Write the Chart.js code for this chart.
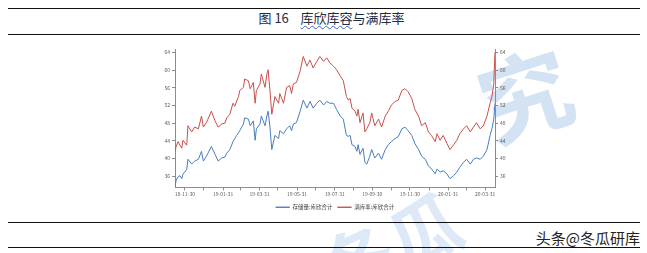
<!DOCTYPE html>
<html>
<head>
<meta charset="utf-8">
<script src="https://cdn.jsdelivr.net/npm/chart.js@4/dist/chart.umd.min.js"></script>
<style>
  body { margin: 0; width: 647px; height: 253px; background: #fff; overflow: hidden; position: relative;
         font-family: "Noto Sans CJK SC", "Noto Sans", sans-serif; }
  .rule { position: absolute; left: 8px; width: 632px; height: 0; border-top: 1.5px solid #111; }
  .title { position: absolute; top: 8px; left: 8px; width: 647px; text-align: center; font-size: 13px; color: #1f2a44; }
  .title .wavy { text-decoration: underline wavy #3d63c9; text-decoration-thickness: 1px; text-underline-offset: 2px; }
  .mark { position: absolute; color: rgba(170, 200, 232, 0.5); font-weight: bold; z-index: 0; }
  .wm { position: absolute; right: 7px; top: 227px; font-size: 15px; color: #222; }
  #box { position: absolute; left: 150px; top: 44px; width: 370px; height: 176px; z-index: 1; }
</style>
</head>
<body>
<div class="mark" style="left:478px; top:24px; font-size:92px; transform: rotate(-18deg);">究</div>
<div class="mark" style="left:318px; top:190px; font-size:72px; transform: rotate(-25deg); color: rgba(170,200,232,0.4);">冬瓜</div>
<div class="rule" style="top:8px"></div>
<div class="title">图 16&nbsp;&nbsp;&nbsp;&nbsp;<span class="wavy">库欣库容</span>与满库率</div>
<div class="rule" style="top:34px"></div>
<div class="rule" style="top:222px"></div>
<div class="wm">头条@冬瓜研库</div>
<div class="rule" style="top:247px"></div>
<div id="box"><canvas id="chart"></canvas></div>
<script>
// days counted from 2018-11-30
var days = [-16, -14, -11, -8, -5, -3, 0, 3, 5, 11, 16, 22, 27, 30, 35, 43, 49, 54, 60, 65,
  68, 73, 78, 81, 84, 87, 89, 95, 97, 103, 106, 111, 114, 116, 122, 124, 130, 133, 135, 138,
  141, 146, 152, 154, 160, 165, 170, 173, 176, 181, 187, 192, 198, 203, 208, 214, 219, 225, 230, 235,
  241, 246, 252, 257, 262, 265, 268, 271, 276, 279, 281, 284, 289, 292, 295, 300, 303, 308, 314, 319,
  325, 330, 335, 341, 346, 352, 357, 362, 368, 373, 379, 384, 390, 395, 400, 406, 409, 414, 419, 425,
  430, 436, 441, 446, 452, 457, 463, 468, 473, 479, 484, 490, 495, 498, 501, 503];

var stock = [33.6, 35.1, 35.8, 36.1, 35.4, 36.5, 36.9, 37.5, 39.8, 38.7, 39.4, 39.8, 41.6, 39.4, 40.5, 42.7, 40.9, 39.4, 40.1, 40.3,
  41.2, 42.0, 43.8, 44.5, 45.2, 45.8, 46.3, 47.8, 49.2, 48.9, 47.4, 48.5, 44.1, 46.7, 47.8, 49.6, 47.4, 49.6, 50.7, 47.1,
  42.0, 45.2, 44.5, 46.3, 45.6, 46.7, 47.4, 46.3, 47.8, 48.1, 50.7, 53.2, 51.4, 52.9, 51.4, 52.5, 53.2, 52.1, 52.9, 52.5,
  52.5, 51.1, 49.6, 48.9, 45.2, 45.0, 45.2, 43.1, 42.7, 41.6, 43.1, 40.9, 42.3, 39.1, 38.7, 40.5, 42.0, 40.1, 41.2, 39.8,
  42.0, 43.1, 43.8, 44.5, 44.9, 46.7, 47.1, 46.3, 45.2, 43.4, 42.0, 40.5, 39.8, 38.3, 37.6, 36.5, 37.6, 36.9, 37.2, 36.5,
  35.4, 36.1, 36.9, 38.0, 39.1, 39.8, 38.7, 39.8, 40.1, 39.8, 40.5, 42.0, 45.2, 46.7, 48.9, 52.5];

var fullRate = [41.6, 42.8, 43.8, 43.0, 42.3, 44.1, 43.5, 43.0, 47.4, 46.0, 47.1, 46.7, 49.6, 47.1, 48.1, 50.7, 48.5, 47.1, 47.8, 48.0,
  49.2, 50.0, 52.5, 51.8, 53.0, 54.0, 55.4, 56.1, 58.0, 57.6, 55.8, 57.2, 52.5, 55.4, 56.9, 59.1, 56.1, 59.1, 60.1, 55.4,
  50.0, 54.0, 52.5, 54.7, 52.5, 56.1, 56.5, 54.7, 56.9, 57.2, 59.8, 63.1, 60.9, 62.3, 60.5, 62.0, 63.1, 62.0, 62.8, 61.7,
  60.9, 60.1, 58.7, 57.6, 54.0, 53.2, 53.6, 51.4, 50.7, 49.6, 51.1, 48.1, 50.3, 46.0, 46.7, 48.1, 50.3, 47.4, 48.9, 47.1,
  49.6, 50.7, 52.1, 52.9, 53.2, 55.4, 55.8, 55.1, 53.6, 51.1, 49.6, 47.4, 48.1, 46.0, 45.2, 43.8, 45.6, 44.1, 45.2, 43.4,
  42.0, 43.1, 44.1, 45.6, 46.7, 47.4, 46.0, 47.1, 48.1, 46.7, 47.4, 49.6, 52.5, 54.0, 56.9, 64.1];

var monthEnds = ['2018-11-30', '2018-12-31', '2019-01-31', '2019-02-28', '2019-03-31', '2019-04-30', '2019-05-31',
  '2019-06-30', '2019-07-31', '2019-08-31', '2019-09-30', '2019-10-31', '2019-11-30', '2019-12-31',
  '2020-01-31', '2020-02-29', '2020-03-31'];
var yTicks = [36, 40, 44, 48, 52, 56, 60, 64];

var base = Date.UTC(2018, 10, 30);
var xTicks = monthEnds.map(function (s) {
  var p = s.split('-');
  return { value: Math.round((Date.UTC(+p[0], +p[1] - 1, +p[2]) - base) / 86400000), label: s.slice(2) };
});

function pts(vals) {
  return vals.map(function (v, i) { return { x: days[i], y: v }; });
}

var tickFont = { size: 5, family: 'Noto Sans CJK SC' };

function yAxis(pos) {
  return {
    position: pos,
    min: 33.4,
    max: 64.8,
    afterBuildTicks: function (s) { s.ticks = yTicks.map(function (v) { return { value: v }; }); },
    afterFit: function (s) { s.width = 25; },
    grid: { drawOnChartArea: false, tickLength: 3, color: '#8c8c8c' },
    border: { color: '#8c8c8c' },
    ticks: { font: tickFont, color: '#595959', padding: 2 }
  };
}

new Chart(document.getElementById('chart'), {
  type: 'line',
  data: {
    datasets: [{
      label: '存储量:库欣合计',
      data: pts(stock),
      borderColor: '#4a7dbf',
      backgroundColor: '#4a7dbf',
      borderWidth: 1,
      pointRadius: 0,
      yAxisID: 'y'
    }, {
      label: '满库率:库欣合计',
      data: pts(fullRate),
      borderColor: '#c8504c',
      backgroundColor: '#c8504c',
      borderWidth: 1,
      pointRadius: 0,
      yAxisID: 'y'
    }]
  },
  options: {
    responsive: true,
    maintainAspectRatio: false,
    animation: false,
    layout: { padding: { top: 5 } },
    scales: {
      x: {
        type: 'linear',
        min: -16,
        max: 503,
        afterBuildTicks: function (s) { s.ticks = xTicks.map(function (t) { return { value: t.value }; }); },
        afterFit: function (s) { s.height = 12; },
        grid: { drawOnChartArea: false, tickLength: 3, color: '#8c8c8c' },
        border: { color: '#8c8c8c' },
        ticks: {
          font: tickFont, color: '#595959', padding: 1, maxRotation: 0, autoSkip: false,
          callback: function (v, i) { return i % 2 === 0 ? xTicks[i].label : ''; }
        }
      },
      y: yAxis('left'),
      y2: yAxis('right')
    },
    plugins: {
      legend: {
        position: 'bottom',
        labels: { font: { size: 5.5, family: 'Noto Sans CJK SC' }, color: '#404040', boxWidth: 14, boxHeight: 0, padding: 5 }
      },
      tooltip: { enabled: false }
    }
  }
});
</script>
</body>
</html>
